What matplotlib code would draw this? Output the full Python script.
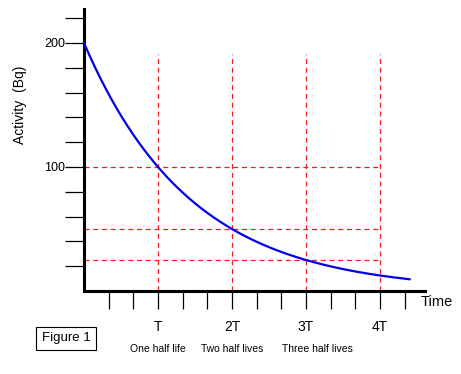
import numpy as np
import matplotlib
matplotlib.use("Agg")
import matplotlib.pyplot as plt
from matplotlib.transforms import blended_transform_factory

# decay curve: A = A0 * 2^(-t/T), t in units of half life T
A0 = 200
t_end = 4.4
half_lives = [1, 2, 3, 4]
half_values = [100, 50, 25]
x_tick_pos = [i / 3 for i in range(1, 14)]
x_tick_text = {3: "T", 6: "2T", 9: "3T", 12: "4T"}
y_tick_pos = list(range(20, 240, 20))
y_tick_text = {100: "100", 200: "200"}
sub_labels = [(1, "One half life"), (2, "Two half lives"), (3.15, "Three half lives")]

plt.rcParams["font.family"] = ["Liberation Sans", "DejaVu Sans"]

W, H = 461, 374
fig = plt.figure(figsize=(W / 100, H / 100), dpi=100, facecolor="white")
x0, y0, x1, y1 = 84, 291, 425, 9
ax = fig.add_axes([x0 / W, (H - y0) / H, (x1 - x0) / W, (y0 - y1) / H])
ax.set_xlim(0, (x1 - x0) / 74)
ax.set_ylim(0, (y0 - y1) / 1.24)

t = np.linspace(0, t_end, 300)
ax.plot(t, A0 * 2 ** (-t), color="#0000ee", lw=1.6, zorder=3, clip_on=False)

dash = dict(color="#ee2020", lw=0.9, dashes=(4, 3))
for k in half_lives:
    ax.plot([k, k], [0, 191], **dash)
for v in half_values:
    ax.plot([0, 4], [v, v], **dash)

for s in ("top", "right"):
    ax.spines[s].set_visible(False)
for s in ("left", "bottom"):
    ax.spines[s].set_linewidth(2.2)
    ax.spines[s].set_color("black")

ax.set_yticks(y_tick_pos)
ax.set_yticklabels([y_tick_text.get(v, "") for v in y_tick_pos])
ax.set_xticks(x_tick_pos)
ax.set_xticklabels([x_tick_text.get(i, "") for i in range(1, 14)])
ax.tick_params(axis="y", direction="out", length=13.5, width=0.9, pad=0,
               labelsize=9)
ax.tick_params(axis="x", direction="out", length=13, width=0.9, pad=8,
               labelsize=10)

ax.set_ylabel("Activity  (Bq)", fontsize=10)
ax.yaxis.set_label_coords(-0.167, 0.66)

fig.text(421 / W, 1 - 302 / H, "Time", fontsize=10.5, ha="left", va="center")

tr = blended_transform_factory(ax.transData, fig.transFigure)
for x, lab in sub_labels:
    ax.text(x, 1 - 349 / H, lab, transform=tr, fontsize=7.5,
            ha="center", va="center")

fig.text(66 / W, 1 - 338.5 / H, "Figure 1", fontsize=9.5, ha="center",
         va="center",
         bbox=dict(boxstyle="square,pad=0.4", facecolor="white",
                   edgecolor="black", lw=0.8))

fig.savefig("out.png", dpi=100)
